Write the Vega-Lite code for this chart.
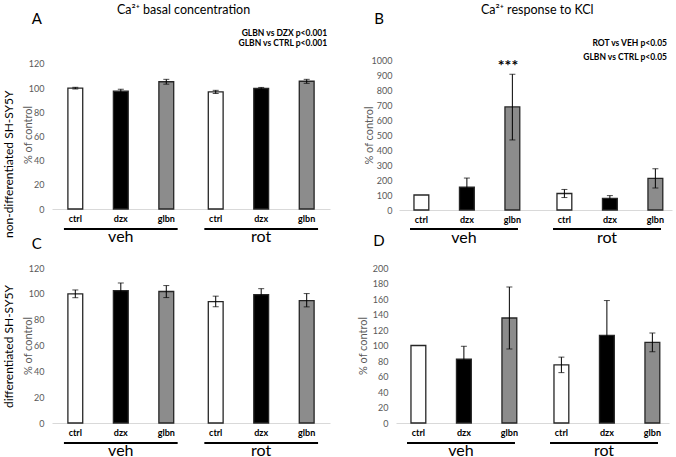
{
 "$schema": "https://vega.github.io/schema/vega-lite/v6.json",
 "padding": {"left": 2, "top": 3, "right": 2, "bottom": 0},
 "config": {
  "font": "Lato",
  "view": {"stroke": null},
  "axisY": {"domain": false, "ticks": false, "grid": false, "labelFontSize": 9, "labelColor": "#595959", "titleFontSize": 11, "titleColor": "#595959", "titleFontWeight": "normal", "titlePadding": 0, "tickCount": 30, "labelOverlap": false, "format": "d"},
  "axisX": {"domainColor": "#d9d9d9", "domainWidth": 1, "ticks": false, "grid": false, "labelFontSize": 16, "labelColor": "#000", "labelPadding": 19, "labelAngle": 0},
  "title": {"color": "#000", "fontWeight": "normal"}
 },
 "spacing": -11,
 "vconcat": [
  {
   "title": {"text": "non-differentiated SH-SY5Y", "orient": "left", "fontSize": 12, "offset": 6, "dx": 7},
   "spacing": 33,
   "hconcat": [
    {
     "width": 278, "height": 149,
     "title": {"text": "Ca²⁺ basal concentration", "fontSize": 12.5, "offset": -4, "anchor": "start", "frame": "group", "dx": 65},
     "data": {"values": [
      {"group": "veh", "treatment": "ctrl", "mean": 100, "lo": 99.3, "hi": 100.7},
      {"group": "veh", "treatment": "dzx", "mean": 97.5, "lo": 95.9, "hi": 99.1},
      {"group": "veh", "treatment": "glbn", "mean": 105.3, "lo": 103.3, "hi": 107.3},
      {"group": "rot", "treatment": "ctrl", "mean": 96.9, "lo": 95.6, "hi": 98.2},
      {"group": "rot", "treatment": "dzx", "mean": 99.7, "lo": 98.9, "hi": 100.6},
      {"group": "rot", "treatment": "glbn", "mean": 105.7, "lo": 104, "hi": 107.3}
     ]},
     "encoding": {"x": {"field": "group", "type": "nominal", "title": null, "scale": {"domain": ["veh", "rot"], "paddingInner": 0.19, "paddingOuter": 0.085}}},
     "layer": [
      {"mark": {"type": "bar", "stroke": "#262626", "strokeWidth": 1.3},
       "encoding": {
        "xOffset": {"field": "treatment", "type": "nominal", "scale": {"domain": ["ctrl", "dzx", "glbn"], "paddingInner": 0.674, "paddingOuter": 0.087}},
        "y": {"field": "mean", "type": "quantitative", "scale": {"domain": [0, 123.3], "nice": false}, "axis": {"title": "% of control", "values": [0, 20, 40, 60, 80, 100, 120], "tickCount": 30, "labelOverlap": false, "labelPadding": 8, "minExtent": 19, "maxExtent": 19}},
        "fill": {"field": "treatment", "type": "nominal", "scale": {"domain": ["ctrl", "dzx", "glbn"], "range": ["#ffffff", "#000000", "#8c8c8c"]}, "legend": null}}},
      {"mark": {"type": "rule", "color": "#000", "strokeWidth": 1},
       "encoding": {"xOffset": {"field": "treatment", "type": "nominal"}, "y": {"field": "lo", "type": "quantitative"}, "y2": {"field": "hi"}}},
      {"mark": {"type": "tick", "orient": "horizontal", "size": 6, "thickness": 1, "color": "#000"},
       "encoding": {"xOffset": {"field": "treatment", "type": "nominal"}, "y": {"field": "hi", "type": "quantitative"}}},
      {"mark": {"type": "tick", "orient": "horizontal", "size": 6, "thickness": 1, "color": "#000"},
       "encoding": {"xOffset": {"field": "treatment", "type": "nominal"}, "y": {"field": "lo", "type": "quantitative"}}},
      {"mark": {"type": "text", "baseline": "middle", "dy": 10, "fontSize": 9, "fontWeight": "bold", "color": "#000"},
       "encoding": {"xOffset": {"field": "treatment", "type": "nominal"}, "y": {"datum": 0}, "text": {"field": "treatment"}}},
      {"transform": [{"filter": "datum.treatment == 'dzx'"}],
       "mark": {"type": "bar", "color": "#000", "yOffset": 19, "y2Offset": 21},
       "encoding": {"y": {"datum": 0}, "y2": {"datum": 0}}},
      {"data": {"values": [{"t": ["GLBN vs DZX p<0.001", "GLBN vs CTRL p<0.001"]}]},
       "mark": {"type": "text", "align": "right", "baseline": "top", "fontSize": 8.5, "fontWeight": "bold", "lineHeight": 10.5, "dx": 66, "color": "#000"},
       "encoding": {"x": {"datum": "rot"}, "y": {"datum": 149}, "text": {"field": "t"}}},
      {"data": {"values": [{"t": "A"}]},
       "mark": {"type": "text", "baseline": "middle", "fontSize": 15, "dx": -84, "color": "#000"},
       "encoding": {"x": {"datum": "veh"}, "y": {"datum": 157}, "text": {"field": "t"}}}
     ]
    },
    {
     "width": 273, "height": 150,
     "title": {"text": "Ca²⁺ response to KCl", "fontSize": 12.5, "offset": -4, "anchor": "start", "frame": "group", "dx": 82},
     "data": {"values": [
      {"group": "veh", "treatment": "ctrl", "mean": 100},
      {"group": "veh", "treatment": "dzx", "mean": 153, "lo": 93, "hi": 213},
      {"group": "veh", "treatment": "glbn", "mean": 687, "lo": 467, "hi": 905},
      {"group": "rot", "treatment": "ctrl", "mean": 110, "lo": 83, "hi": 137},
      {"group": "rot", "treatment": "dzx", "mean": 78, "lo": 60, "hi": 96},
      {"group": "rot", "treatment": "glbn", "mean": 211, "lo": 147, "hi": 275}
     ]},
     "encoding": {"x": {"field": "group", "type": "nominal", "title": null, "scale": {"domain": ["veh", "rot"], "paddingInner": 0.245, "paddingOuter": 0.077}}},
     "layer": [
      {"mark": {"type": "bar", "stroke": "#262626", "strokeWidth": 1.3},
       "encoding": {
        "xOffset": {"field": "treatment", "type": "nominal", "scale": {"domain": ["ctrl", "dzx", "glbn"], "paddingInner": 0.659, "paddingOuter": 0.057}},
        "y": {"field": "mean", "type": "quantitative", "scale": {"domain": [0, 1000], "nice": false}, "axis": {"title": "% of control", "values": [0, 100, 200, 300, 400, 500, 600, 700, 800, 900, 1000], "tickCount": 30, "labelOverlap": false, "labelPadding": 7, "minExtent": 25, "maxExtent": 25}},
        "fill": {"field": "treatment", "type": "nominal", "scale": {"domain": ["ctrl", "dzx", "glbn"], "range": ["#ffffff", "#000000", "#8c8c8c"]}, "legend": null}}},
      {"mark": {"type": "rule", "color": "#000", "strokeWidth": 1},
       "encoding": {"xOffset": {"field": "treatment", "type": "nominal"}, "y": {"field": "lo", "type": "quantitative"}, "y2": {"field": "hi"}}},
      {"mark": {"type": "tick", "orient": "horizontal", "size": 6, "thickness": 1, "color": "#000"},
       "encoding": {"xOffset": {"field": "treatment", "type": "nominal"}, "y": {"field": "hi", "type": "quantitative"}}},
      {"mark": {"type": "tick", "orient": "horizontal", "size": 6, "thickness": 1, "color": "#000"},
       "encoding": {"xOffset": {"field": "treatment", "type": "nominal"}, "y": {"field": "lo", "type": "quantitative"}}},
      {"mark": {"type": "text", "baseline": "middle", "dy": 10, "fontSize": 9, "fontWeight": "bold", "color": "#000"},
       "encoding": {"xOffset": {"field": "treatment", "type": "nominal"}, "y": {"datum": 0}, "text": {"field": "treatment"}}},
      {"transform": [{"filter": "datum.treatment == 'dzx'"}],
       "mark": {"type": "bar", "color": "#000", "yOffset": 18, "y2Offset": 20},
       "encoding": {"y": {"datum": 0}, "y2": {"datum": 0}}},
      {"data": {"values": [{"t": ["ROT vs VEH p<0.05", "GLBN vs CTRL p<0.05"]}]},
       "mark": {"type": "text", "align": "right", "baseline": "top", "fontSize": 8.5, "fontWeight": "bold", "lineHeight": 14, "dx": 60, "color": "#000"},
       "encoding": {"x": {"datum": "rot"}, "y": {"datum": 1140}, "text": {"field": "t"}}},
      {"data": {"values": [{"t": "***"}]},
       "mark": {"type": "text", "baseline": "middle", "fontSize": 16, "fontWeight": "bold", "dx": 44, "dy": 3, "color": "#000"},
       "encoding": {"x": {"datum": "veh"}, "y": {"datum": 980}, "text": {"field": "t"}}},
      {"data": {"values": [{"t": "B"}]},
       "mark": {"type": "text", "baseline": "middle", "fontSize": 15, "dx": -85, "color": "#000"},
       "encoding": {"x": {"datum": "veh"}, "y": {"datum": 1273}, "text": {"field": "t"}}}
     ]
    }
   ]
  },
  {
   "title": {"text": "differentiated SH-SY5Y", "orient": "left", "fontSize": 12, "offset": 6, "dx": 50},
   "spacing": 27,
   "hconcat": [
    {
     "width": 278, "height": 155,
     "data": {"values": [
      {"group": "veh", "treatment": "ctrl", "mean": 100, "lo": 97, "hi": 103},
      {"group": "veh", "treatment": "dzx", "mean": 102.5, "lo": 96.6, "hi": 108.4},
      {"group": "veh", "treatment": "glbn", "mean": 101.8, "lo": 97.1, "hi": 106.4},
      {"group": "rot", "treatment": "ctrl", "mean": 94, "lo": 90, "hi": 98.2},
      {"group": "rot", "treatment": "dzx", "mean": 99.4, "lo": 94.8, "hi": 104},
      {"group": "rot", "treatment": "glbn", "mean": 94.8, "lo": 89.9, "hi": 100.2}
     ]},
     "encoding": {"x": {"field": "group", "type": "nominal", "title": null, "scale": {"domain": ["veh", "rot"], "paddingInner": 0.19, "paddingOuter": 0.085}}},
     "layer": [
      {"mark": {"type": "bar", "stroke": "#262626", "strokeWidth": 1.3},
       "encoding": {
        "xOffset": {"field": "treatment", "type": "nominal", "scale": {"domain": ["ctrl", "dzx", "glbn"], "paddingInner": 0.674, "paddingOuter": 0.087}},
        "y": {"field": "mean", "type": "quantitative", "scale": {"domain": [0, 120], "nice": false}, "axis": {"title": "% of control", "values": [0, 20, 40, 60, 80, 100, 120], "tickCount": 30, "labelOverlap": false, "labelPadding": 8, "minExtent": 19, "maxExtent": 19}},
        "fill": {"field": "treatment", "type": "nominal", "scale": {"domain": ["ctrl", "dzx", "glbn"], "range": ["#ffffff", "#000000", "#8c8c8c"]}, "legend": null}}},
      {"mark": {"type": "rule", "color": "#000", "strokeWidth": 1},
       "encoding": {"xOffset": {"field": "treatment", "type": "nominal"}, "y": {"field": "lo", "type": "quantitative"}, "y2": {"field": "hi"}}},
      {"mark": {"type": "tick", "orient": "horizontal", "size": 6, "thickness": 1, "color": "#000"},
       "encoding": {"xOffset": {"field": "treatment", "type": "nominal"}, "y": {"field": "hi", "type": "quantitative"}}},
      {"mark": {"type": "tick", "orient": "horizontal", "size": 6, "thickness": 1, "color": "#000"},
       "encoding": {"xOffset": {"field": "treatment", "type": "nominal"}, "y": {"field": "lo", "type": "quantitative"}}},
      {"mark": {"type": "text", "baseline": "middle", "dy": 10, "fontSize": 9, "fontWeight": "bold", "color": "#000"},
       "encoding": {"xOffset": {"field": "treatment", "type": "nominal"}, "y": {"datum": 0}, "text": {"field": "treatment"}}},
      {"transform": [{"filter": "datum.treatment == 'dzx'"}],
       "mark": {"type": "bar", "color": "#000", "yOffset": 19, "y2Offset": 21},
       "encoding": {"y": {"datum": 0}, "y2": {"datum": 0}}},
      {"data": {"values": [{"t": "C"}]},
       "mark": {"type": "text", "baseline": "middle", "fontSize": 15, "dx": -84, "color": "#000"},
       "encoding": {"x": {"datum": "veh"}, "y": {"datum": 138.6}, "text": {"field": "t"}}}
     ]
    },
    {
     "width": 273, "height": 155,
     "data": {"values": [
      {"group": "veh", "treatment": "ctrl", "mean": 100},
      {"group": "veh", "treatment": "dzx", "mean": 82.5, "lo": 66, "hi": 99},
      {"group": "veh", "treatment": "glbn", "mean": 135.5, "lo": 95.5, "hi": 175.5},
      {"group": "rot", "treatment": "ctrl", "mean": 75, "lo": 65, "hi": 85},
      {"group": "rot", "treatment": "dzx", "mean": 113, "lo": 68, "hi": 158},
      {"group": "rot", "treatment": "glbn", "mean": 104, "lo": 92, "hi": 116}
     ]},
     "encoding": {"x": {"field": "group", "type": "nominal", "title": null, "scale": {"domain": ["veh", "rot"], "paddingInner": 0.245, "paddingOuter": 0.077}}},
     "layer": [
      {"mark": {"type": "bar", "stroke": "#262626", "strokeWidth": 1.3},
       "encoding": {
        "xOffset": {"field": "treatment", "type": "nominal", "scale": {"domain": ["ctrl", "dzx", "glbn"], "paddingInner": 0.659, "paddingOuter": 0.057}},
        "y": {"field": "mean", "type": "quantitative", "scale": {"domain": [0, 200], "nice": false}, "axis": {"title": "% of control", "values": [0, 20, 40, 60, 80, 100, 120, 140, 160, 180, 200], "tickCount": 30, "labelOverlap": false, "labelPadding": 8, "minExtent": 28, "maxExtent": 28}},
        "fill": {"field": "treatment", "type": "nominal", "scale": {"domain": ["ctrl", "dzx", "glbn"], "range": ["#ffffff", "#000000", "#8c8c8c"]}, "legend": null}}},
      {"mark": {"type": "rule", "color": "#000", "strokeWidth": 1},
       "encoding": {"xOffset": {"field": "treatment", "type": "nominal"}, "y": {"field": "lo", "type": "quantitative"}, "y2": {"field": "hi"}}},
      {"mark": {"type": "tick", "orient": "horizontal", "size": 6, "thickness": 1, "color": "#000"},
       "encoding": {"xOffset": {"field": "treatment", "type": "nominal"}, "y": {"field": "hi", "type": "quantitative"}}},
      {"mark": {"type": "tick", "orient": "horizontal", "size": 6, "thickness": 1, "color": "#000"},
       "encoding": {"xOffset": {"field": "treatment", "type": "nominal"}, "y": {"field": "lo", "type": "quantitative"}}},
      {"mark": {"type": "text", "baseline": "middle", "dy": 10, "fontSize": 9, "fontWeight": "bold", "color": "#000"},
       "encoding": {"xOffset": {"field": "treatment", "type": "nominal"}, "y": {"datum": 0}, "text": {"field": "treatment"}}},
      {"transform": [{"filter": "datum.treatment == 'dzx'"}],
       "mark": {"type": "bar", "color": "#000", "yOffset": 19, "y2Offset": 21},
       "encoding": {"y": {"datum": 0}, "y2": {"datum": 0}}},
      {"data": {"values": [{"t": "D"}]},
       "mark": {"type": "text", "baseline": "middle", "fontSize": 15, "dx": -82, "color": "#000"},
       "encoding": {"x": {"datum": "veh"}, "y": {"datum": 234.8}, "text": {"field": "t"}}}
     ]
    }
   ]
  }
 ]
}
